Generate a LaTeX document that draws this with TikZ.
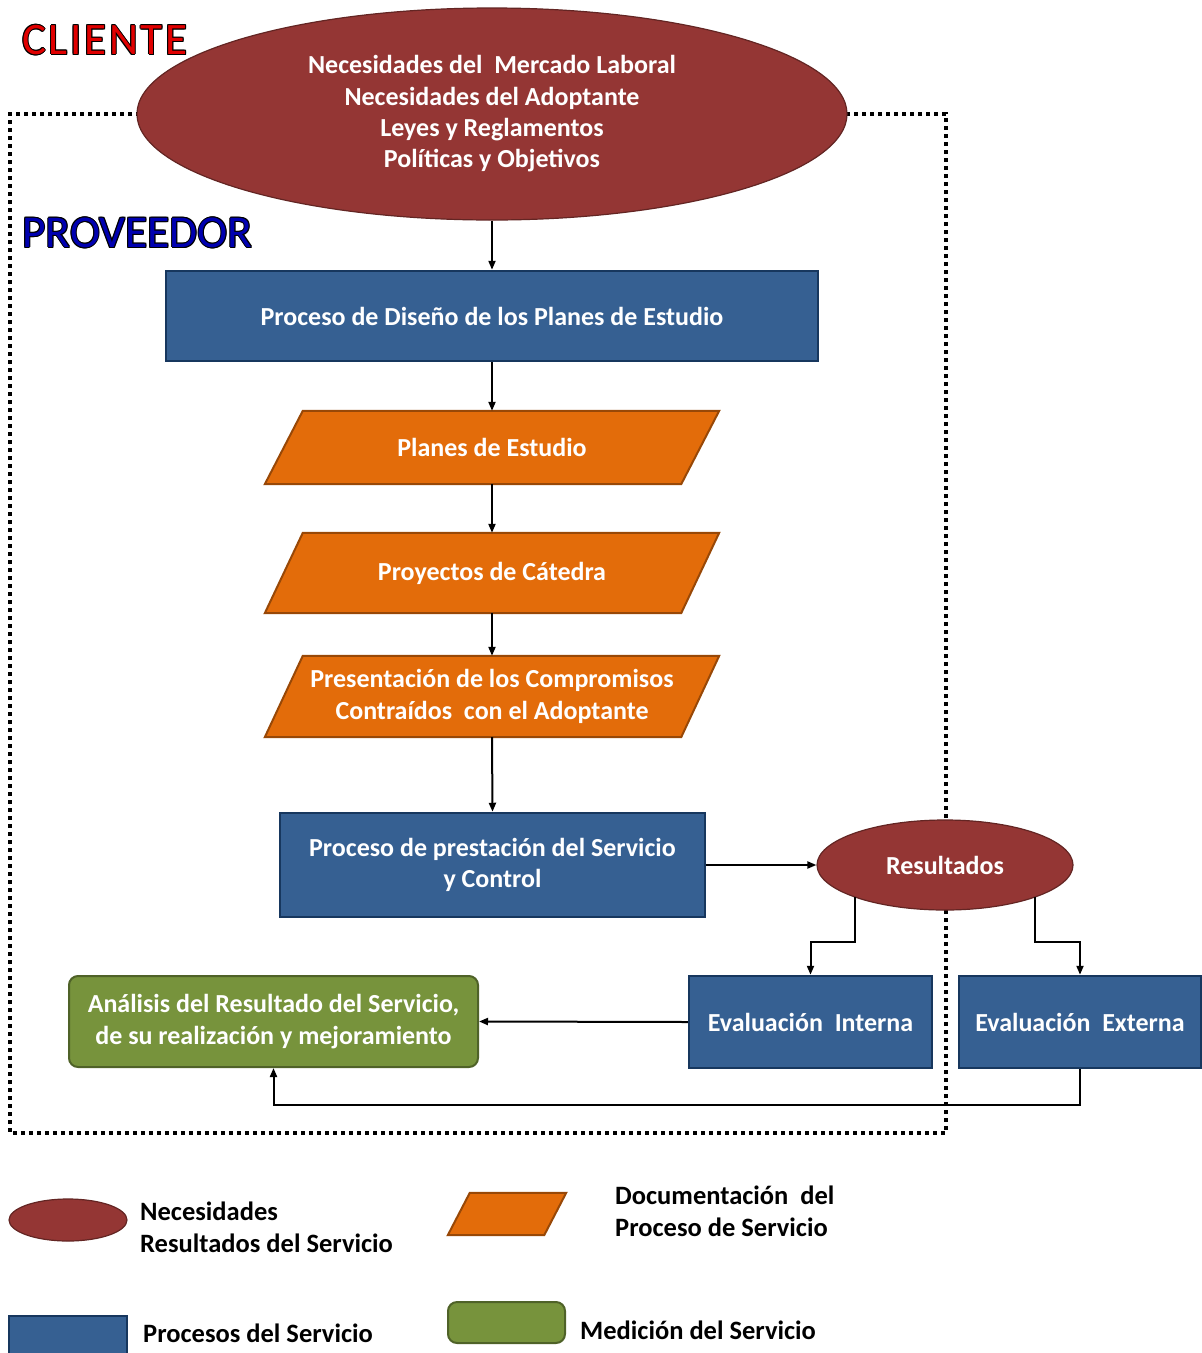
\documentclass[tikz,border=0pt]{standalone}
\usepackage{fontspec}
\setmainfont{Carlito}
\usetikzlibrary{shapes.geometric,arrows.meta,calc}

\definecolor{needred}{HTML}{943634}
\definecolor{neededge}{HTML}{632523}
\definecolor{procblue}{HTML}{366092}
\definecolor{procedge}{HTML}{17375E}
\definecolor{docorange}{HTML}{E36C0A}
\definecolor{docedge}{HTML}{984807}
\definecolor{measgreen}{HTML}{77933C}
\definecolor{measedge}{HTML}{4F6228}
\definecolor{titlered}{HTML}{E00000}
\definecolor{titleblue}{HTML}{0000B0}

% text with a thin black outline
\newcommand\outlined[2]{%
  \leavevmode
  \rlap{\color{black}\hspace*{-1pt}#2}%
  \rlap{\color{black}\hspace*{1pt}#2}%
  \rlap{\color{black}\raisebox{1pt}{#2}}%
  \rlap{\color{black}\raisebox{-1pt}{#2}}%
  \rlap{\color{black}\hspace*{-0.7pt}\raisebox{0.7pt}{#2}}%
  \rlap{\color{black}\hspace*{0.7pt}\raisebox{0.7pt}{#2}}%
  \rlap{\color{black}\hspace*{-0.7pt}\raisebox{-0.7pt}{#2}}%
  \rlap{\color{black}\hspace*{0.7pt}\raisebox{-0.7pt}{#2}}%
  {\color{#1}#2}}

\tikzset{
  need/.style={ellipse, fill=needred, draw=neededge, line width=1.2pt,
    text=white, font=\fontsize{26}{31.3}\selectfont\bfseries, align=center, inner sep=0pt},
  procbox/.style={rectangle, fill=procblue, draw=procedge, line width=2.5pt,
    text=white, font=\fontsize{26}{31.3}\selectfont\bfseries, align=center, inner sep=0pt},
  docbox/.style={rectangle, inner sep=0pt, text=white,
    font=\fontsize{26}{31.3}\selectfont\bfseries, align=center},
  docshape/.style={fill=docorange, draw=docedge, line width=2pt},
  measbox/.style={rectangle, rounded corners=9pt, fill=measgreen, draw=measedge, line width=2pt,
    text=white, font=\fontsize{26}{31.3}\selectfont\bfseries, align=center, inner sep=0pt},
  flow/.style={line width=2pt, -{Triangle[length=9pt,width=7pt]}},
  boundary/.style={line width=4pt, dash pattern=on 4pt off 4pt},
  legendtext/.style={font=\fontsize{26.5}{32}\selectfont\bfseries, align=left, anchor=west, inner sep=0pt},
  title/.style={font=\fontsize{45.5}{46}\selectfont, anchor=west, inner sep=0pt}
}

\begin{document}
\begin{tikzpicture}[x=1pt,y=-1pt]
\useasboundingbox (0,0) rectangle (1202,1353);

% provider boundary (top edge interrupted by the client ellipse)
\coordinate (bTL) at (10,114);
\coordinate (bTR) at (946,114);
\coordinate (bBL) at (10,1133);
\coordinate (bBR) at (946,1133);
\draw[boundary] (140,114) -- (bTL) -- (bBL) -- (bBR) -- (bTR) -- (845,114);

% titles
\node[title, font=\fontsize{45}{46}\selectfont\addfontfeature{LetterSpace=6}] (cliente) at (22,40) {\outlined{titlered}{CLIENTE}};
\node[title] (proveedor) at (22,233) {\outlined{titleblue}{PROVEEDOR}};

% client needs
\node[need, minimum width=710pt, minimum height=212pt] (needs) at (492,114)
  {Necesidades del\ \ Mercado Laboral\\Necesidades del Adoptante\\Leyes y Reglamentos\\Políticas y Objetivos};

% design process
\node[procbox, minimum width=652pt, minimum height=90pt] (design) at (492,316)
  {Proceso de Diseño de los Planes de Estudio};

% documents
\node[docbox, minimum width=454pt, minimum height=73pt] (planes) at (492,447.5) {};
\node[docbox, minimum width=454pt, minimum height=80pt] (proyectos) at (492,573) {};
\node[docbox, minimum width=454pt, minimum height=81pt] (compromisos) at (492,696.5) {};
\foreach \d in {planes,proyectos,compromisos}{
  \draw[docshape] (\d.south west) -- ($(\d.south east)+(-38,0)$) -- (\d.north east)
    -- ($(\d.north west)+(38,0)$) -- cycle;
}
\node[docbox] (planestxt) at (planes) {Planes de Estudio};
\node[docbox] (proyectostxt) at (proyectos) {Proyectos de Cátedra};
\node[docbox] (compromisostxt) at (compromisos) {Presentación de los Compromisos\\Contraídos\ \ con el Adoptante};

% service delivery
\node[procbox, minimum width=425pt, minimum height=104pt] (service) at (492.5,865)
  {Proceso de prestación del Servicio\\y Control};

% results
\node[need, minimum width=256pt, minimum height=90pt] (results) at (945,865) {Resultados};

% evaluations
\node[procbox, minimum width=243pt, minimum height=92pt] (evalint) at (810.5,1022)
  {Evaluación\ \ Interna};
\node[procbox, minimum width=242pt, minimum height=92pt] (evalext) at (1080,1022)
  {Evaluación\ \ Externa};

% analysis
\node[measbox, minimum width=409pt, minimum height=91pt] (analysis) at (273.5,1021.5)
  {Análisis del Resultado del Servicio,\\de su realización y mejoramiento};

% flow
\coordinate (rL) at ($(results.center)+(-90,32)$);
\coordinate (rR) at ($(results.center)+(90,32)$);
\draw[flow] (needs.south) -- (design.north);
\draw[flow] (design.south) -- (planes.north);
\draw[flow] (planes.south) -- (proyectos.north);
\draw[flow] (proyectos.south) -- (compromisos.north);
\draw[flow] (compromisos.south) -- (service.north);
\draw[flow] (service.east) -- (results.west);
\draw[flow] (rL) -- (855,942) -| (evalint.north);
\draw[flow] (rR) -- (1035,942) -| (evalext.north);
\draw[flow] (evalint.west) -- (analysis.east);
\draw[flow] (evalext.south) |- (600,1105) -| (analysis.south);

% legend
\node[need, minimum width=118pt, minimum height=42pt] (lgneed) at (68,1220) {};
\node[legendtext] (lgneedtxt) at (140,1227) {Necesidades\\Resultados del Servicio};

\node[docbox, minimum width=118pt, minimum height=42pt] (lgdoc) at (507,1214) {};
\draw[docshape] (lgdoc.south west) -- ($(lgdoc.south east)+(-22,0)$) -- (lgdoc.north east)
  -- ($(lgdoc.north west)+(22,0)$) -- cycle;
\node[legendtext] (lgdoctxt) at (615,1211) {Documentación\ \ del\\Proceso de Servicio};

\node[procbox, minimum width=118pt, minimum height=50pt] (lgproc) at (68,1341) {};
\node[legendtext] (lgproctxt) at (143,1333) {Procesos del Servicio};

\node[measbox, minimum width=117pt, minimum height=41pt] (lgmeas) at (506.5,1322.5) {};
\node[legendtext] (lgmeastxt) at (580,1330) {Medición del Servicio};
\end{tikzpicture}
\end{document}
